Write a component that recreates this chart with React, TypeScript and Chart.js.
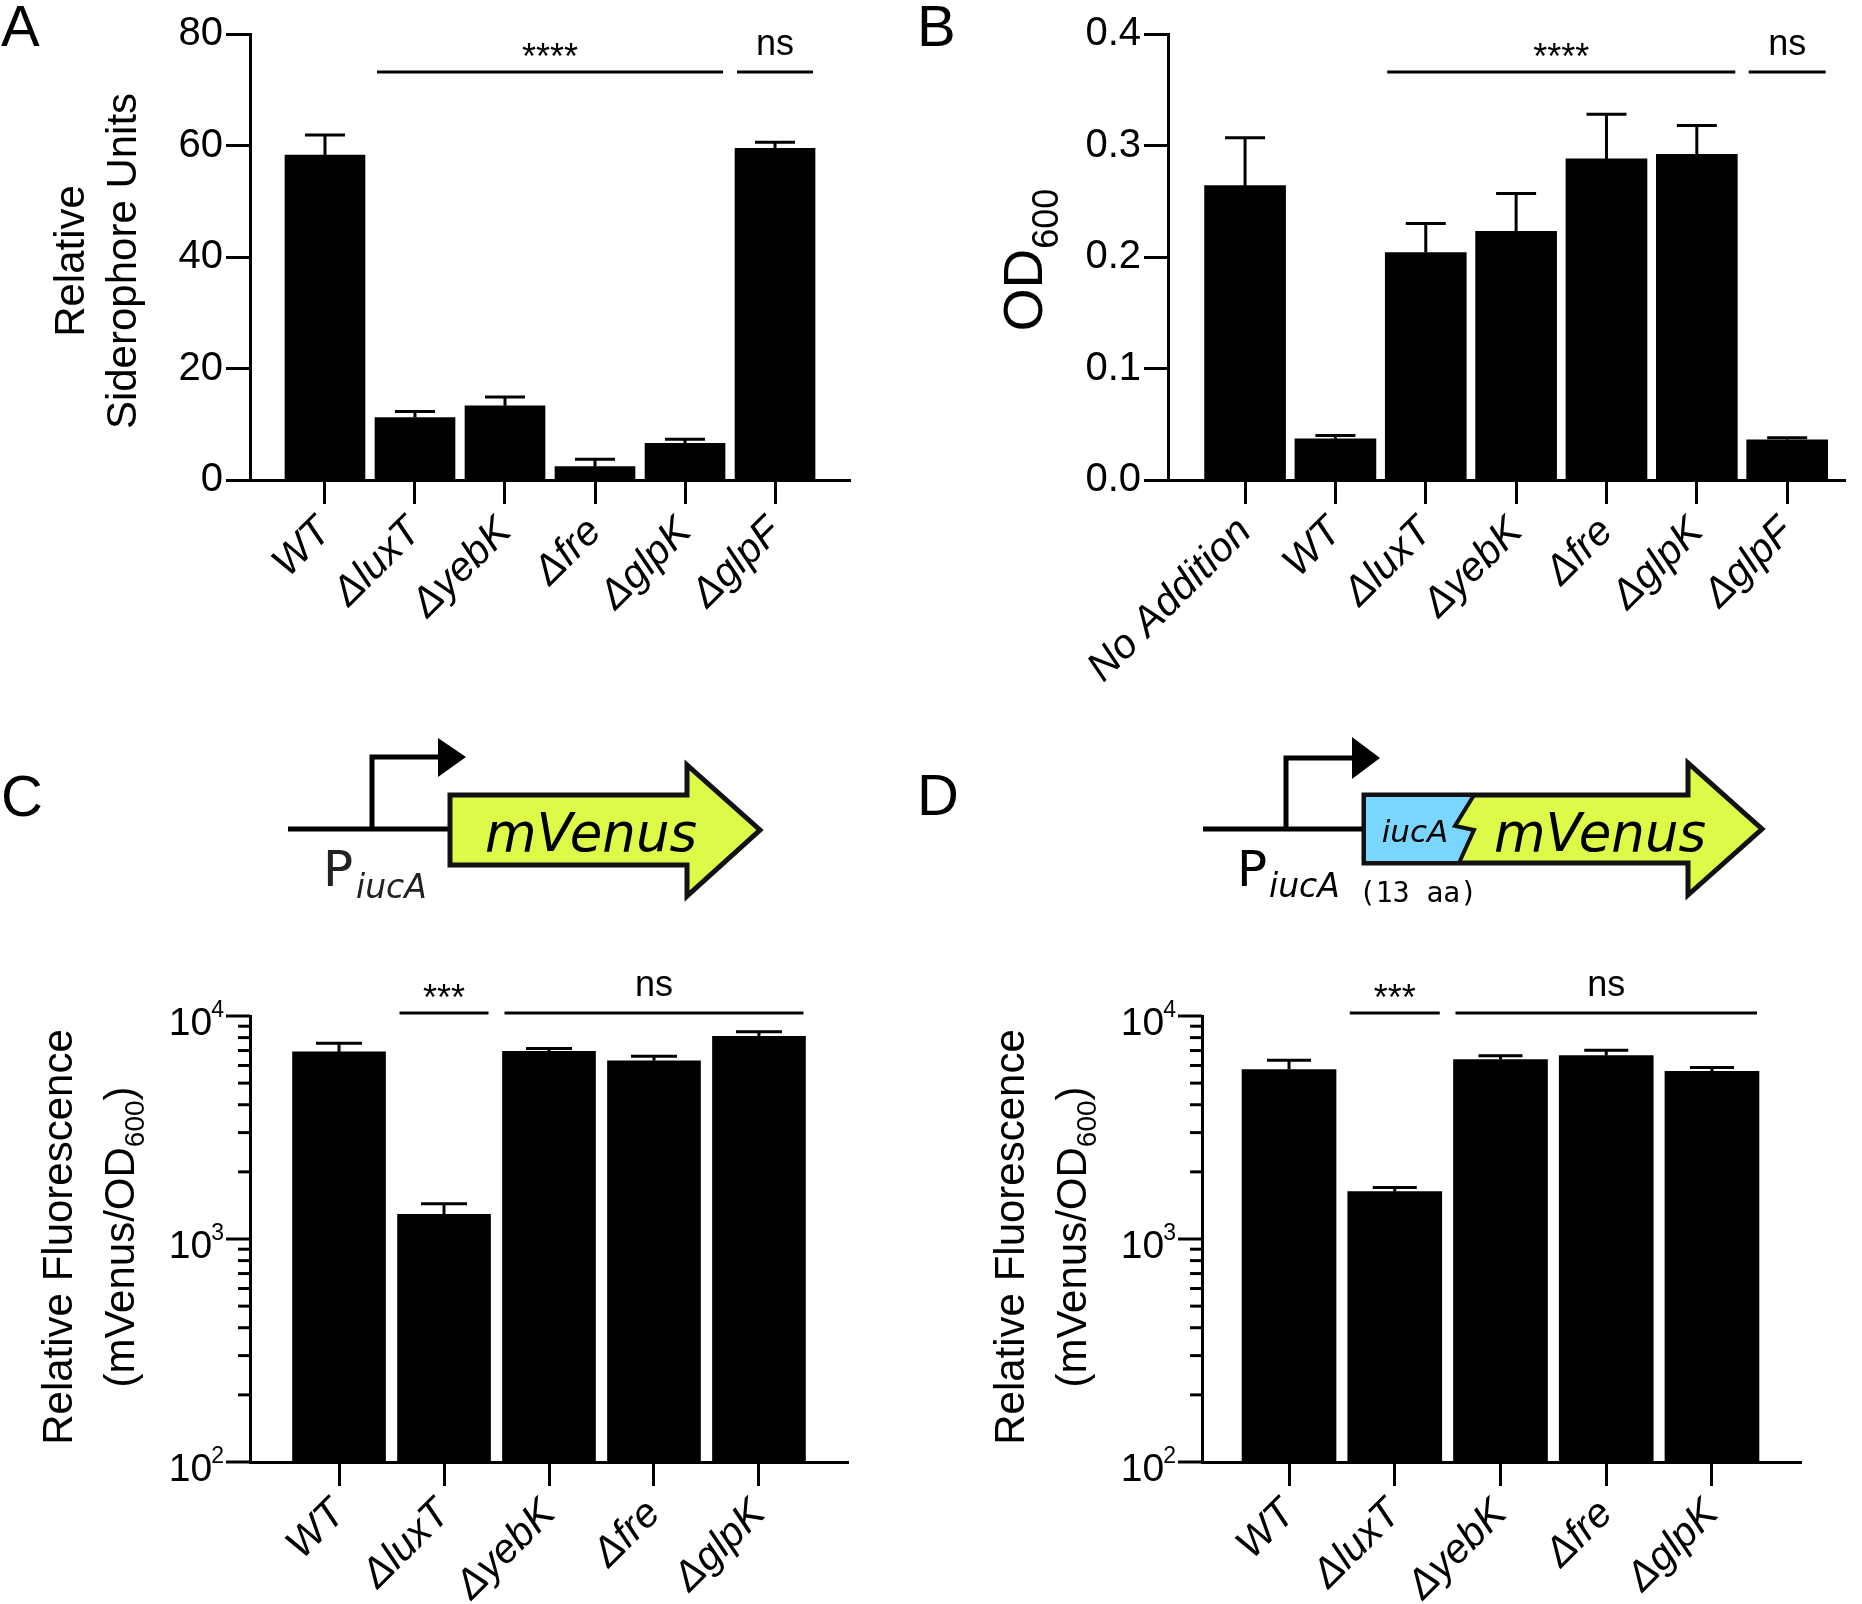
import React, { useEffect, useRef } from "react";
import { Chart, registerables } from "chart.js";

Chart.register(...registerables);

const SANS = "'Liberation Sans', Arial, Helvetica, sans-serif";
const DJ = "'DejaVu Sans', Verdana, sans-serif";
const MONO = "'DejaVu Sans Mono', monospace";

// ---------- Panel A : Relative Siderophore Units ----------
const catsA = ["WT", "ΔluxT", "ΔyebK", "Δfre", "ΔglpK", "ΔglpF"];
const valsA = [58.3, 11.2, 13.3, 2.4, 6.6, 59.5];
const errA = [61.9, 12.3, 14.9, 3.7, 7.3, 60.6];
const ticksA = [0, 20, 40, 60, 80];
const sigA = [
  { from: 1, to: 4, label: "****" },
  { from: 5, to: 5, label: "ns" },
];
const sigLevelA = 73.2;

// ---------- Panel B : OD600 ----------
const catsB = ["No Addition", "WT", "ΔluxT", "ΔyebK", "Δfre", "ΔglpK", "ΔglpF"];
const valsB = [0.264, 0.037, 0.204, 0.223, 0.288, 0.292, 0.036];
const errB = [0.307, 0.040, 0.230, 0.257, 0.328, 0.318, 0.038];
const ticksB = [0, 0.1, 0.2, 0.3, 0.4];
const sigB = [
  { from: 2, to: 5, label: "****" },
  { from: 6, to: 6, label: "ns" },
];
const sigLevelB = 0.366;

// ---------- Panel C : PiucA-mVenus ----------
const catsC = ["WT", "ΔluxT", "ΔyebK", "Δfre", "ΔglpK"];
const valsC = [6900, 1290, 6950, 6300, 8100];
const errC = [7550, 1440, 7150, 6600, 8500];

// ---------- Panel D : PiucA-iucA(13aa)-mVenus ----------
const catsD = ["WT", "ΔluxT", "ΔyebK", "Δfre", "ΔglpK"];
const valsD = [5750, 1630, 6380, 6650, 5650];
const errD = [6330, 1700, 6640, 7020, 5880];

const sigCD = [
  { from: 1, to: 1, label: "***" },
  { from: 2, to: 4, label: "ns" },
];
const sigLevelCD = 10320;

const logTicks = [
  100, 200, 300, 400, 500, 600, 700, 800, 900,
  1000, 2000, 3000, 4000, 5000, 6000, 7000, 8000, 9000,
  10000,
];
const logMajor = [100, 1000, 10000];
const logExponent: Record<number, string> = { 100: "2", 1000: "3", 10000: "4" };

type Seg = { t: string; size: number; dy?: number };
type TitleLine = { x: number; segs: Seg[] };

type PanelCfg = {
  cats: string[];
  vals: number[];
  errs: number[];
  log: boolean;
  yMin: number;
  yMax: number;
  yTicks: number[];
  yLabel: (v: number) => string;
  yFont: number;
  xMin: number;
  xMax: number;
  barW: number;
  capW: number;
  width: number;
  height: number;
  area: { left: number; top: number; right: number; bottom: number };
  sig: { from: number; to: number; label: string }[];
  sigY: number;
  titleCy: number;
  title: TitleLine[];
  xPad: number;
};

function makeChart(canvas: HTMLCanvasElement, c: PanelCfg) {
  const extras = {
    id: "panelExtras",
    afterDatasetsDraw(chart: any) {
      const ctx = chart.ctx as CanvasRenderingContext2D;
      const xs = chart.scales.x;
      const ys = chart.scales.y;
      const meta = chart.getDatasetMeta(0);
      ctx.save();
      ctx.strokeStyle = "#000";
      ctx.fillStyle = "#000";
      ctx.lineWidth = 3;
      ctx.lineCap = "butt";
      // error bars (upper only)
      meta.data.forEach((el: any, i: number) => {
        const x = el.x;
        const ye = ys.getPixelForValue(c.errs[i]);
        ctx.beginPath();
        ctx.moveTo(x, el.y);
        ctx.lineTo(x, ye);
        ctx.moveTo(x - c.capW / 2, ye);
        ctx.lineTo(x + c.capW / 2, ye);
        ctx.stroke();
      });
      // log axis: tick marks (major + minor) and 10^n labels
      if (c.log) {
        const xr = ys.right;
        logTicks.forEach((v) => {
          const y = ys.getPixelForValue(v);
          const major = logMajor.includes(v);
          const len = major ? 24 : 12;
          ctx.beginPath();
          ctx.moveTo(xr - len, y);
          ctx.lineTo(xr, y);
          ctx.stroke();
          if (major) {
            ctx.textAlign = "right";
            ctx.textBaseline = "alphabetic";
            ctx.font = `23px ${SANS}`;
            const ex = logExponent[v];
            const exRight = xr - 26;
            ctx.fillText(ex, exRight, y + 1);
            const ew = ctx.measureText(ex).width;
            ctx.font = `${c.yFont}px ${SANS}`;
            ctx.fillText("10", exRight - ew + 1, y + 19);
          }
        });
      }
      // significance bars
      const yl = ys.getPixelForValue(c.sigY);
      ctx.textAlign = "center";
      ctx.textBaseline = "alphabetic";
      c.sig.forEach((s) => {
        const x1 = xs.getPixelForValue(s.from) - c.barW / 2 + 2;
        const x2 = xs.getPixelForValue(s.to) + c.barW / 2 - 2;
        ctx.beginPath();
        ctx.moveTo(x1, yl);
        ctx.lineTo(x2, yl);
        ctx.stroke();
        ctx.font = `36px ${SANS}`;
        const yy = s.label === "ns" ? yl - 17 : yl - 3;
        ctx.fillText(s.label, (x1 + x2) / 2, yy);
      });
      // rotated axis title with sub-scripts
      c.title.forEach((line) => {
        ctx.save();
        ctx.translate(line.x, c.titleCy);
        ctx.rotate(-Math.PI / 2);
        let total = 0;
        const widths = line.segs.map((s) => {
          ctx.font = `${s.size}px ${SANS}`;
          const w = ctx.measureText(s.t).width;
          total += w;
          return w;
        });
        let px = -total / 2;
        ctx.textAlign = "left";
        line.segs.forEach((s, k) => {
          ctx.font = `${s.size}px ${SANS}`;
          ctx.fillText(s.t, px, s.dy || 0);
          px += widths[k];
        });
        ctx.restore();
      });
      ctx.restore();
    },
  };

  const yScale: any = c.log
    ? {
        type: "logarithmic",
        min: c.yMin,
        max: c.yMax,
        afterBuildTicks: (s: any) => {
          s.ticks = c.yTicks.map((v) => ({ value: v, major: logMajor.includes(v) }));
        },
        afterFit: (s: any) => {
          s.width = c.area.left;
        },
        ticks: { display: false },
        grid: { display: false, drawOnChartArea: false },
        border: { display: true, color: "#000", width: 3 },
      }
    : {
        type: "linear",
        min: c.yMin,
        max: c.yMax,
        afterBuildTicks: (s: any) => {
          s.ticks = c.yTicks.map((v) => ({ value: v }));
        },
        afterFit: (s: any) => {
          s.width = c.area.left;
        },
        ticks: {
          autoSkip: false,
          padding: 3,
          color: "#000",
          font: { family: SANS, size: c.yFont },
          callback: (v: any) => c.yLabel(Number(v)),
        },
        grid: {
          display: true,
          drawOnChartArea: false,
          drawTicks: true,
          tickLength: 24,
          tickWidth: 3,
          tickColor: "#000",
        },
        border: { display: true, color: "#000", width: 3 },
      };

  return new Chart(canvas, {
    type: "bar",
    data: {
      datasets: [
        {
          data: c.vals.map((v, i) => ({ x: i, y: v })) as any,
          backgroundColor: "#000",
          borderWidth: 0,
          barThickness: c.barW,
          ...(c.log ? { base: c.yMin } : {}),
        } as any,
      ],
    },
    options: {
      animation: false,
      responsive: false,
      maintainAspectRatio: false,
      devicePixelRatio: 1,
      events: [],
      layout: {
        padding: { left: 0, top: c.area.top, right: c.width - c.area.right, bottom: 0 },
      },
      plugins: {
        legend: { display: false },
        tooltip: { enabled: false },
        title: { display: false },
      },
      scales: {
        x: {
          type: "linear",
          min: c.xMin,
          max: c.xMax,
          offset: false,
          afterBuildTicks: (s: any) => {
            s.ticks = c.cats.map((_, i) => ({ value: i }));
          },
          afterFit: (s: any) => {
            s.height = c.height - c.area.bottom;
          },
          ticks: {
            autoSkip: false,
            minRotation: 45,
            maxRotation: 45,
            padding: c.xPad,
            color: "#000",
            font: { family: SANS, size: 41, style: "italic" },
            callback: (v: any) => c.cats[Number(v)] ?? "",
          },
          grid: {
            display: true,
            drawOnChartArea: false,
            drawTicks: true,
            tickLength: 24,
            tickWidth: 3,
            tickColor: "#000",
            offset: false,
          },
          border: { display: true, color: "#000", width: 3 },
        } as any,
        y: yScale,
      },
    },
    plugins: [extras as any],
  });
}

const cfgA: PanelCfg = {
  cats: catsA, vals: valsA, errs: errA, log: false,
  yMin: 0, yMax: 80, yTicks: ticksA, yLabel: (v) => String(v), yFont: 40,
  xMin: -0.833, xMax: 5.833, barW: 80, capW: 40,
  width: 900, height: 720,
  area: { left: 250, top: 34, right: 850, bottom: 480 },
  sig: sigA, sigY: sigLevelA,
  titleCy: 261,
  title: [
    { x: 84, segs: [{ t: "Relative", size: 42 }] },
    { x: 136, segs: [{ t: "Siderophore Units", size: 42 }] },
  ],
  xPad: 4,
};

const cfgB: PanelCfg = {
  cats: catsB, vals: valsB, errs: errB, log: false,
  yMin: 0, yMax: 0.4, yTicks: ticksB, yLabel: (v) => v.toFixed(1), yFont: 40,
  xMin: -0.853, xMax: 6.64, barW: 81, capW: 40,
  width: 962, height: 720,
  area: { left: 268, top: 34, right: 945, bottom: 480 },
  sig: sigB, sigY: sigLevelB,
  titleCy: 260,
  title: [
    { x: 142, segs: [{ t: "OD", size: 55 }, { t: "600", size: 36, dy: 16 }] },
  ],
  xPad: 4,
};

const cfgC: PanelCfg = {
  cats: catsC, vals: valsC, errs: errC, log: true,
  yMin: 100, yMax: 10000, yTicks: logTicks, yLabel: (v) => String(v), yFont: 39,
  xMin: -0.848, xMax: 4.848, barW: 93, capW: 46,
  width: 900, height: 684,
  area: { left: 250, top: 96, right: 848, bottom: 542 },
  sig: sigCD, sigY: sigLevelCD,
  titleCy: 317,
  title: [
    { x: 72, segs: [{ t: "Relative Fluorescence", size: 42 }] },
    {
      x: 134,
      segs: [
        { t: "(mVenus/OD", size: 42 },
        { t: "600", size: 28, dy: 10 },
        { t: ")", size: 42 },
      ],
    },
  ],
  xPad: 4,
};

const cfgD: PanelCfg = {
  cats: catsD, vals: valsD, errs: errD, log: true,
  yMin: 100, yMax: 10000, yTicks: logTicks, yLabel: (v) => String(v), yFont: 39,
  xMin: -0.823, xMax: 4.842, barW: 94, capW: 44,
  width: 962, height: 684,
  area: { left: 302, top: 96, right: 901, bottom: 542 },
  sig: sigCD, sigY: sigLevelCD,
  titleCy: 317,
  title: [
    { x: 124, segs: [{ t: "Relative Fluorescence", size: 42 }] },
    {
      x: 186,
      segs: [
        { t: "(mVenus/OD", size: 42 },
        { t: "600", size: 28, dy: 10 },
        { t: ")", size: 42 },
      ],
    },
  ],
  xPad: 4,
};

function Panel({ cfg, left, top }: { cfg: PanelCfg; left: number; top: number }) {
  const ref = useRef<HTMLCanvasElement | null>(null);
  useEffect(() => {
    if (!ref.current) return;
    const ch = makeChart(ref.current, cfg);
    return () => ch.destroy();
  }, [cfg]);
  return (
    <canvas
      ref={ref}
      width={cfg.width}
      height={cfg.height}
      style={{ position: "absolute", left, top, width: cfg.width, height: cfg.height }}
    />
  );
}

const YELLOW = "#dcfa48";
const BLUE = "#7ad6fc";
const EDGE = "#111";

function Overlay() {
  return (
    <svg
      width={1862}
      height={1604}
      style={{ position: "absolute", left: 0, top: 0, pointerEvents: "none" }}
    >
      {/* panel letters */}
      <g fontFamily={SANS} fontSize={58} fill="#000">
        <text x={1} y={46}>A</text>
        <text x={917} y={46}>B</text>
        <text x={1} y={816}>C</text>
        <text x={917} y={815}>D</text>
      </g>

      {/* diagram C */}
      <g>
        <line x1={288} y1={829} x2={452} y2={829} stroke="#000" strokeWidth={5} />
        <polyline points="372,829 372,757 440,757" fill="none" stroke="#000" strokeWidth={5} />
        <polygon points="438,738 466,757 438,777" fill="#000" />
        <polygon
          points="450,795 687,795 687,765 760,830 687,896 687,865 450,865"
          fill={YELLOW}
          stroke={EDGE}
          strokeWidth={5}
          strokeLinejoin="miter"
        />
        <text x={591} y={851} fontFamily={DJ} fontStyle="italic" fontSize={53} textAnchor="middle" fill="#000">
          mVenus
        </text>
        <text x={323} y={886} fontFamily={DJ} fontSize={50} fill="#222">P</text>
        <text x={356} y={898} fontFamily={DJ} fontStyle="italic" fontSize={33} fill="#222">iucA</text>
      </g>

      {/* diagram D */}
      <g>
        <line x1={1203} y1={829} x2={1364} y2={829} stroke="#000" strokeWidth={5} />
        <polyline points="1286,829 1286,758 1353,758" fill="none" stroke="#000" strokeWidth={5} />
        <polygon points="1352,737 1380,758 1352,779" fill="#000" />
        <polygon
          points="1364,795 1688,795 1688,763 1762,829 1688,895 1688,863 1364,863"
          fill={YELLOW}
          stroke={EDGE}
          strokeWidth={5}
          strokeLinejoin="miter"
        />
        <polygon points="1366,797 1473,797 1455,826 1474,830 1459,861 1366,861" fill={BLUE} />
        <polyline points="1474,795 1455,826 1474,830 1459,863" fill="none" stroke={EDGE} strokeWidth={4} />
        <text x={1415} y={842} fontFamily={DJ} fontStyle="italic" fontSize={31} textAnchor="middle" fill="#000">
          iucA
        </text>
        <text x={1600} y={851} fontFamily={DJ} fontStyle="italic" fontSize={53} textAnchor="middle" fill="#000">
          mVenus
        </text>
        <text x={1237} y={886} fontFamily={DJ} fontSize={50} fill="#000">P</text>
        <text x={1269} y={897} fontFamily={DJ} fontStyle="italic" fontSize={33} fill="#000">iucA</text>
        <text x={1359} y={902} fontFamily={MONO} fontSize={28} fill="#000">(13 aa)</text>
      </g>
    </svg>
  );
}

export default function App() {
  return (
    <div style={{ position: "absolute", left: 0, top: 0, width: 1862, height: 1604, background: "#fff" }}>
      <Panel cfg={cfgA} left={0} top={0} />
      <Panel cfg={cfgB} left={900} top={0} />
      <Panel cfg={cfgC} left={0} top={920} />
      <Panel cfg={cfgD} left={900} top={920} />
      <Overlay />
    </div>
  );
}
